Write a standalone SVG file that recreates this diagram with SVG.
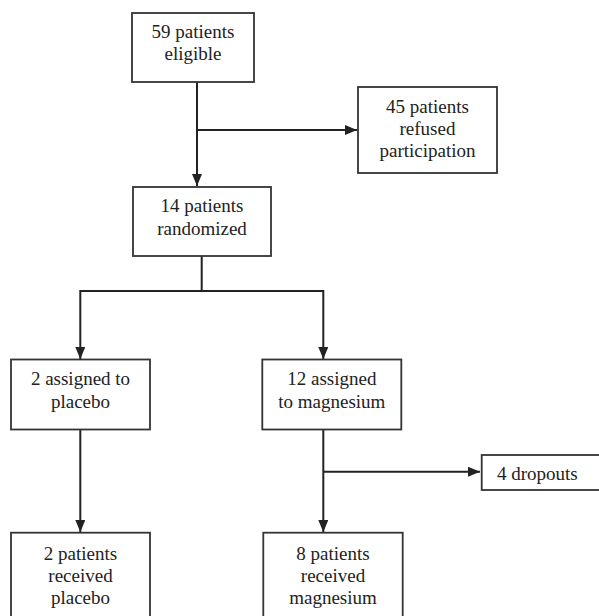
<svg xmlns="http://www.w3.org/2000/svg" width="599" height="616" viewBox="0 0 599 616">
<style>
.box{fill:#fff;stroke:#333;stroke-width:1.8}
.ln{fill:none;stroke:#222;stroke-width:2}
.t{font-family:'Liberation Serif','Times New Roman',Times,serif;font-size:19px;fill:#222;text-anchor:middle}
</style>
<defs>
<marker id="ah" markerUnits="userSpaceOnUse" markerWidth="12" markerHeight="10" refX="12" refY="5" orient="auto">
<path d="M0,0 L12,5 L0,10 Z" fill="#222"/>
</marker>
</defs>
<rect width="599" height="616" fill="#fff"/>
<g id="connectors">
<path class="ln" d="M197,82 V186" marker-end="url(#ah)"/>
<path class="ln" d="M197,130 H357" marker-end="url(#ah)"/>
<path class="ln" d="M201.7,256 V291 M80.3,291 H323.3"/>
<path class="ln" d="M80.3,290 V359" marker-end="url(#ah)"/>
<path class="ln" d="M323.3,290 V359" marker-end="url(#ah)"/>
<path class="ln" d="M80.3,429 V532" marker-end="url(#ah)"/>
<path class="ln" d="M323.3,429 V532" marker-end="url(#ah)"/>
<path class="ln" d="M323.3,471.7 H480" marker-end="url(#ah)"/>
</g>
<g class="t" font-family="Liberation Serif, serif">
<g id="eligible">
<rect class="box" x="132" y="13" width="122" height="69"/>
<text x="193" y="37.5">59 patients</text>
<text x="193" y="60">eligible</text>
</g>
<g id="refused">
<rect class="box" x="358" y="87" width="139" height="86"/>
<text x="427.5" y="113">45 patients</text>
<text x="427.5" y="135">refused</text>
<text x="427.5" y="157">participation</text>
</g>
<g id="randomized">
<rect class="box" x="133" y="187" width="138" height="69"/>
<text x="202" y="211.5">14 patients</text>
<text x="202" y="234.5">randomized</text>
</g>
<g id="placebo">
<rect class="box" x="11" y="359.5" width="139" height="70"/>
<text x="80.5" y="385">2 assigned to</text>
<text x="80.5" y="408">placebo</text>
</g>
<g id="magnesium">
<rect class="box" x="262.3" y="359.5" width="139" height="70"/>
<text x="331.8" y="385">12 assigned</text>
<text x="331.8" y="408">to magnesium</text>
</g>
<g id="dropouts">
<rect class="box" x="481.7" y="455" width="120" height="35"/>
<text x="497" y="480" text-anchor="start" style="text-anchor:start">4 dropouts</text>
</g>
<g id="received-placebo">
<rect class="box" x="11" y="532.7" width="139" height="90"/>
<text x="80.5" y="559.5">2 patients</text>
<text x="80.5" y="582">received</text>
<text x="80.5" y="603.5">placebo</text>
</g>
<g id="received-magnesium">
<rect class="box" x="263.3" y="532.7" width="139.4" height="90"/>
<text x="333" y="559.5">8 patients</text>
<text x="333" y="582">received</text>
<text x="333" y="603.5">magnesium</text>
</g>
</g>
</svg>
